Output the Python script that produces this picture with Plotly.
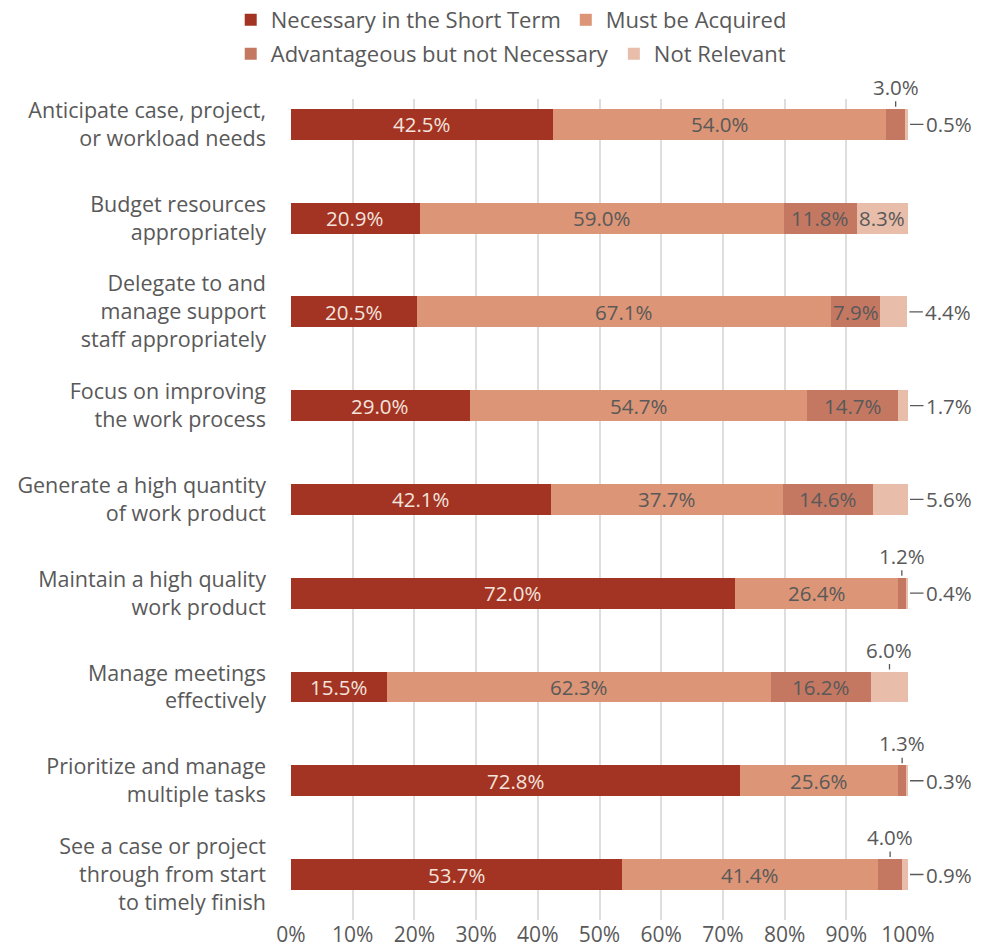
import plotly.graph_objects as go

# Skills and the share of respondents in each response group (percent)
categories = [
    "Anticipate case, project,<br>or workload needs",
    "Budget resources<br>appropriately",
    "Delegate to and<br>manage support<br>staff appropriately",
    "Focus on improving<br>the work process",
    "Generate a high quantity<br>of work product",
    "Maintain a high quality<br>work product",
    "Manage meetings<br>effectively",
    "Prioritize and manage<br>multiple tasks",
    "See a case or project<br>through from start<br>to timely finish",
]
series_names = [
    "Necessary in the Short Term",
    "Must be Acquired",
    "Advantageous but not Necessary",
    "Not Relevant",
]
necessary_short_term = [42.5, 20.9, 20.5, 29.0, 42.1, 72.0, 15.5, 72.8, 53.7]
must_be_acquired = [54.0, 59.0, 67.1, 54.7, 37.7, 26.4, 62.3, 25.6, 41.4]
advantageous_not_necessary = [3.0, 11.8, 7.9, 14.7, 14.6, 1.2, 16.2, 1.3, 4.0]
not_relevant = [0.5, 8.3, 4.4, 1.7, 5.6, 0.4, 6.0, 0.3, 0.9]

x_tick_values = [0, 10, 20, 30, 40, 50, 60, 70, 80, 90, 100]
x_tick_labels = [f"{v}%" for v in x_tick_values]

series_values = [necessary_short_term, must_be_acquired,
                 advantageous_not_necessary, not_relevant]

colors = ["#A33323", "#DC9576", "#C47862", "#E8BDAA"]
inside_text_colors = ["#F3E4DD", "#595959", "#595959", "#595959"]
legend_ids = ["legend", "legend", "legend2", "legend2"]

FONT = "Open Sans"
TEXT_GRAY = "#595959"
BAR_WIDTH = 0.33
LABEL_SIZE = 20.5
INSIDE_MIN = 7.0          # segments narrower than this get an outside label
# small segments labelled above the bar instead of to its right
LABEL_ABOVE = {(2, i) for i in range(len(categories))} | {(3, 6)}

fig = go.Figure()
for s, (name, vals) in enumerate(zip(series_names, series_values)):
    fig.add_trace(go.Bar(
        y=list(range(len(categories))),
        x=vals,
        name=name,
        orientation="h",
        width=BAR_WIDTH,
        marker=dict(color=colors[s], line=dict(width=0)),
        legend=legend_ids[s],
        hovertemplate="%{x:.1f}%<extra>" + name + "</extra>",
    ))

annotations = []
for i in range(len(categories)):
    left = 0.0
    for s, vals in enumerate(series_values):
        v = vals[i]
        center = left + v / 2
        label = f"{v:.1f}%"
        if v >= INSIDE_MIN:
            annotations.append(dict(
                x=center, y=i, xref="x", yref="y", text=label,
                showarrow=False,
                font=dict(family=FONT, size=LABEL_SIZE,
                          color=inside_text_colors[s]),
            ))
        elif (s, i) in LABEL_ABOVE:
            annotations.append(dict(
                x=center, y=i - BAR_WIDTH / 2, xref="x", yref="y", text=label,
                showarrow=True, arrowhead=0, arrowwidth=1.3,
                arrowcolor=TEXT_GRAY, ax=0, ay=-22, standoff=2, borderpad=0,
                font=dict(family=FONT, size=LABEL_SIZE, color=TEXT_GRAY),
            ))
        else:
            end = min(sum(vs[i] for vs in series_values), 100.0)
            annotations.append(dict(
                x=end, y=i, xref="x", yref="y", text=label,
                showarrow=True, arrowhead=0, arrowwidth=1.3,
                arrowcolor=TEXT_GRAY, ax=41, ay=0, standoff=2, borderpad=2,
                font=dict(family=FONT, size=LABEL_SIZE, color=TEXT_GRAY),
            ))
        left += v

legend_style = dict(
    orientation="h", xanchor="center", yanchor="middle",
    xref="container", yref="container",
    font=dict(family=FONT, size=22, color=TEXT_GRAY),
    bgcolor="rgba(0,0,0,0)", itemwidth=30, traceorder="normal",
)

fig.update_layout(
    width=985, height=952,
    margin=dict(l=291, r=77, t=99, b=32),
    barmode="stack",
    plot_bgcolor="white", paper_bgcolor="white",
    font=dict(family=FONT, size=21, color=TEXT_GRAY),
    xaxis=dict(
        range=[0, 100], tickvals=x_tick_values, ticktext=x_tick_labels,
        showgrid=True, gridcolor="#DEDEDE", gridwidth=2,
        zeroline=False, showline=False, ticks="",
        tickfont=dict(family=FONT, size=21, color=TEXT_GRAY),
        fixedrange=True, automargin=False,
    ),
    yaxis=dict(
        range=[8.485, -0.27],
        tickvals=list(range(len(categories))), ticktext=categories,
        showgrid=False, zeroline=False, showline=False, ticks="",
        ticklabelstandoff=24,
        tickfont=dict(family=FONT, size=21.5, color=TEXT_GRAY),
        fixedrange=True, automargin=False,
    ),
    legend=dict(x=0.519, y=1 - 20 / 952, **legend_style),
    legend2=dict(x=0.519, y=1 - 54 / 952, **legend_style),
    annotations=annotations,
    showlegend=True,
)

fig.write_html("out.html")
